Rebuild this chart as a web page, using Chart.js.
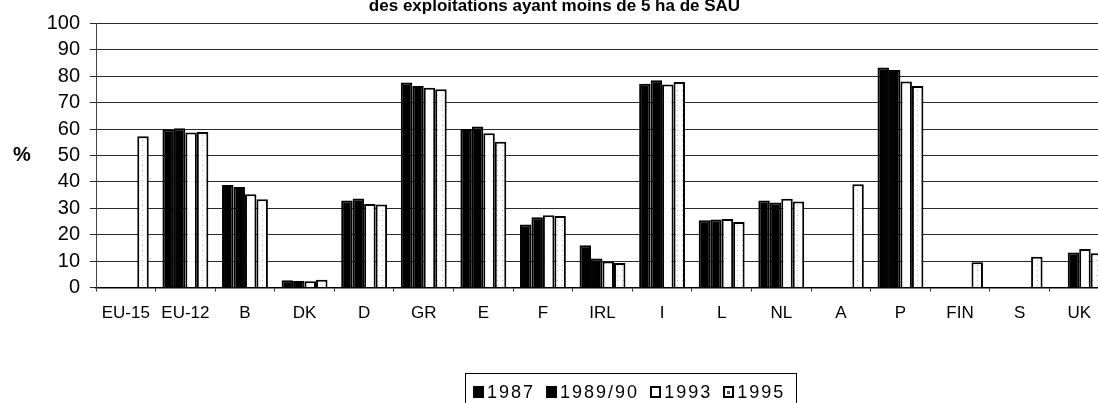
<!DOCTYPE html>
<html>
<head>
<meta charset="utf-8">
<script src="https://cdn.jsdelivr.net/npm/chart.js@4.4.1/dist/chart.umd.min.js"></script>
<style>
  body { margin: 0; background: #fff; }
  #wrap { position: relative; width: 1098px; height: 403px; overflow: hidden; background: #fff; }
  #chart { position: absolute; left: 0; top: -12px; }
  #legend {
    position: absolute; left: 465px; top: 373px; width: 332px; height: 40px;
    border: 1px solid #000; box-sizing: border-box;
    display: flex; align-items: flex-start; padding: 9px 0 0 7px;
    font-family: 'Liberation Sans', Arial, sans-serif; font-size: 18px; color: #000;
  }
  .item { display: flex; align-items: center; margin-right: 11px; }
  .box { width: 11px; height: 12px; box-sizing: border-box; margin-right: 3px; position: relative; }
  .txt { letter-spacing: 2px; line-height: 18px; }
</style>
</head>
<body>
<div id="wrap">
  <canvas id="chart" width="1126" height="415"></canvas>
  <div id="legend"></div>
</div>
<script>
const categories = ['EU-15', 'EU-12', 'B', 'DK', 'D', 'GR', 'E', 'F', 'IRL', 'I', 'L', 'NL', 'A', 'P', 'FIN', 'S', 'UK'];
const seriesNames = ['1987', '1989/90', '1993', '1995'];

// % des exploitations ayant moins de 5 ha de SAU
const v1987 = [null, 59.8, 38.8, 2.8, 33.0, 77.6, 60.0, 23.9, 16.0, 77.2, 25.5, 33.0, null, 83.3, null, null, null];
const v1989 = [null, 60.3, 38.1, 2.5, 33.7, 76.3, 61.0, 26.6, 11.0, 78.5, 25.8, 32.2, null, 82.4, null, null, 13.3];
const v1993 = [null, 58.7, 35.3, 2.4, 31.6, 75.6, 58.4, 27.4, 9.9, 76.9, 26.0, 33.6, null, 78.0, null, null, 14.6];
const v1995 = [57.3, 58.9, 33.4, 3.0, 31.5, 75.1, 55.2, 27.1, 9.3, 77.8, 24.8, 32.6, 39.1, 76.3, 9.6, 11.7, 13.0];

const yTicks = [0, 10, 20, 30, 40, 50, 60, 70, 80, 90, 100];

Chart.defaults.font.family = "'Liberation Sans', Arial, sans-serif";
Chart.defaults.color = '#000';

// sparse dotted fill for the 1995 bars
const tile = document.createElement('canvas');
tile.width = 5;
tile.height = 5;
const tctx = tile.getContext('2d');
tctx.fillStyle = '#fff';
tctx.fillRect(0, 0, 5, 5);
tctx.fillStyle = '#b8b8b8';
tctx.fillRect(2, 2, 1, 1);
const dotted = tctx.createPattern(tile, 'repeat');

// "%" written horizontally left of the axis
const percentLabel = {
    id: 'percentLabel',
    afterDraw(chart) {
        const c = chart.ctx;
        const area = chart.chartArea;
        c.save();
        c.font = "bold 20px 'Liberation Sans', Arial, sans-serif";
        c.fillStyle = '#000';
        c.textAlign = 'center';
        c.textBaseline = 'middle';
        c.fillText('%', 22, (area.top + area.bottom) / 2);
        c.restore();
    }
};

const ctx = document.getElementById('chart').getContext('2d');
const chart = new Chart(ctx, {
    type: 'bar',
    data: {
        labels: categories,
        datasets: [{
            label: seriesNames[0],
            data: v1987,
            backgroundColor: '#000',
            borderColor: '#000',
            borderWidth: 2
        },
        {
            label: seriesNames[1],
            data: v1989,
            backgroundColor: '#000',
            borderColor: '#000',
            borderWidth: 2
        },
        {
            label: seriesNames[2],
            data: v1993,
            backgroundColor: '#fff',
            borderColor: '#000',
            borderWidth: 2
        },
        {
            label: seriesNames[3],
            data: v1995,
            backgroundColor: dotted,
            borderColor: '#000',
            borderWidth: 2
        }]
    },
    options: {
        responsive: false,
        animation: false,
        categoryPercentage: 0.77,
        barPercentage: 1.0,
        layout: {
            padding: { left: 0, right: 17, top: 0, bottom: 67 }
        },
        plugins: {
            legend: { display: false },
            tooltip: { enabled: false },
            title: {
                display: true,
                text: 'des exploitations ayant moins de 5 ha de SAU',
                font: { size: 17, weight: 'bold' },
                color: '#000',
                padding: { top: 8, bottom: 7 }
            }
        },
        scales: {
            x: {
                grid: {
                    drawOnChartArea: false,
                    drawTicks: true,
                    tickLength: 4,
                    color: '#333'
                },
                border: { color: '#000', width: 1.5 },
                ticks: {
                    font: { size: 17 },
                    padding: 12,
                    maxRotation: 0,
                    autoSkip: false
                }
            },
            y: {
                min: 0,
                max: 100,
                afterFit(scale) {
                    scale.width = 96;
                },
                afterBuildTicks(scale) {
                    scale.ticks = yTicks.map(v => ({ value: v }));
                },
                grid: {
                    color: '#2a2a2a',
                    lineWidth: 1,
                    tickLength: 6
                },
                border: { color: '#444', width: 1 },
                ticks: {
                    font: { size: 20 },
                    padding: 10,
                    stepSize: 10,
                    autoSkip: false
                }
            }
        }
    },
    plugins: [percentLabel]
});

// legend box under the chart
const legendFills = [
    { bg: '#000', border: '#000', dot: false },
    { bg: '#000', border: '#000', dot: false },
    { bg: '#fff', border: '#000', dot: false },
    { bg: '#fff', border: '#000', dot: true }
];
const legend = document.getElementById('legend');
seriesNames.forEach((name, i) => {
    const item = document.createElement('div');
    item.className = 'item';
    const box = document.createElement('div');
    box.className = 'box';
    box.style.background = legendFills[i].bg;
    box.style.border = '2px solid ' + legendFills[i].border;
    if (legendFills[i].dot) {
        const dot = document.createElement('div');
        dot.style.cssText = 'position:absolute;left:2px;top:3px;width:3px;height:3px;background:#555;';
        box.appendChild(dot);
    }
    const txt = document.createElement('span');
    txt.className = 'txt';
    txt.textContent = name;
    item.appendChild(box);
    item.appendChild(txt);
    legend.appendChild(item);
});
</script>
</body>
</html>
